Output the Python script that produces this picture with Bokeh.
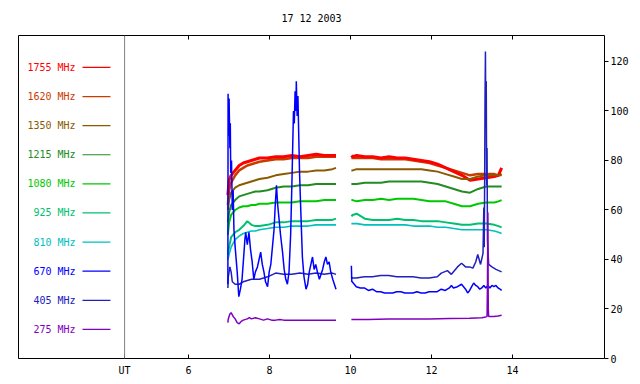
import math
from bokeh.plotting import figure
from bokeh.models import LinearAxis, FixedTicker, Span, Range1d
from bokeh.core.properties import value
from bokeh.embed import file_html
from bokeh.resources import INLINE

NaN = float("nan")

title_text = "17 12 2003"
freq_labels = ["1755 MHz", "1620 MHz", "1350 MHz", "1215 MHz", "1080 MHz",
               "925 MHz", "810 MHz", "670 MHz", "405 MHz", "275 MHz"]
colors = ["#ff0000", "#c83c00", "#8b5a00", "#228b22", "#00c800",
          "#00c070", "#00c0c0", "#0000ff", "#2020c0", "#8000c0"]
x_ticks = [6, 8, 10, 12, 14]
ut_mark = 4.42
y_ticks = [0, 20, 40, 60, 80, 100, 120]

# common time grid (UT hours) for the smoother channels
ut = [6.97, 7.0, 7.05, 7.15, 7.25, 7.35, 7.45, 7.55, 7.65, 7.75, 7.95, 8.15, 8.35, 8.55, 8.75,
      8.95, 9.15, 9.35, 9.55, 9.64, NaN,
      10.02, 10.05, 10.15, 10.35, 10.55, 10.75, 10.95, 11.15, 11.35, 11.55, 11.75, 11.95, 12.15,
      12.35, 12.55, 12.75, 12.95, 13.15, 13.35, 13.55, 13.65, 13.73]

f1755 = [66, 72, 74, 76, 78, 79, 79.5, 80, 80.5, 81, 81, 81.5, 81.5, 82, 81.5, 82, 82.5, 82, 82, 82, NaN,
         82, 81.5, 82, 81.5, 81.5, 81, 81.5, 81, 81, 80.5, 80, 79.5, 78.5, 77, 75.5, 74, 72, 72.5,
         73, 73.5, 74, 77]
f1620 = [62, 68, 71, 74, 76, 77, 78, 78.5, 79, 79.5, 80, 80.5, 80.5, 81, 81, 81, 81.5, 81.5, 81.5, 81.5, NaN,
         81, 81, 81, 81, 81, 80.5, 80.5, 80.5, 80.5, 80, 79.5, 79, 78, 77, 76, 75, 74, 74.5,
         74.5, 74.5, 74, 74.5]
f1350 = [60, 64, 67, 69, 70, 70.5, 71, 71.5, 72, 72.5, 73, 74, 74.5, 75, 75.5, 75.5, 76, 76, 76.5, 77, NaN,
         76, 76, 76.5, 76.5, 76.5, 76.5, 76.5, 76.5, 76.5, 76.5, 76.5, 76, 75.5, 74.5, 73.5, 72.5, 72.5, 73.5,
         74, 74, 74, 74]
f1215 = [55, 59, 62, 64, 65.5, 66, 66.5, 67, 67.5, 67.5, 68, 69, 69.5, 69.5, 70, 70, 70.5, 70.5, 70.5, 70.5, NaN,
         70.5, 70.5, 70.5, 71, 71, 71, 71.5, 71.5, 71.5, 71.5, 71.5, 71, 70.5, 69.5, 68.5, 67.5, 67, 68.5,
         69.5, 69.5, 69.5, 69.5]
f1080 = [50, 55, 58, 60, 61, 61.5, 61.5, 62, 62, 62.5, 62.5, 63, 63, 63, 63.5, 63.5, 63.5, 64, 64, 64, NaN,
         64, 64, 63.5, 64, 64, 64.5, 64, 64.5, 64.5, 64.5, 64, 63.5, 63.5, 63.5, 62.5, 61.5, 61.5, 62.5,
         63, 63, 63.5, 64]
f925 = [42, 45, 49, 51, 52, 53.5, 55.5, 54, 53.5, 53.5, 54, 55, 55, 55.5, 55.5, 55.5, 56, 56, 56, 56.5, NaN,
        57.5, 58, 58.5, 56.5, 56, 56, 56, 56.5, 56, 56, 55.5, 55.5, 55.5, 55, 54.5, 54, 54, 54.5,
        54.5, 54, 53.5, 53]
f810 = [40, 42, 45, 48, 49.5, 50.5, 51, 51.5, 51.5, 52, 52.5, 53, 53, 53.5, 53.5, 53.5, 54, 54, 54, 54, NaN,
        54.5, 54.5, 54.5, 54, 54, 54, 54, 54, 54, 53.5, 53.5, 53.5, 53, 53, 52.5, 52, 52, 52,
        52, 51.5, 51, 50.5]

# spiky channels: (UT hour, flux)
s670 = [(6.97, 30), (6.975, 107), (6.99, 90), (7.0, 105), (7.02, 85), (7.03, 95), (7.04, 75),
        (7.06, 80), (7.08, 60), (7.1, 68), (7.12, 52), (7.15, 45), (7.2, 35), (7.24, 25), (7.28, 28),
        (7.32, 32), (7.36, 41), (7.39, 48), (7.41, 51), (7.45, 46), (7.49, 51), (7.53, 44), (7.57, 39),
        (7.61, 32), (7.65, 35), (7.7, 37), (7.74, 40), (7.78, 43), (7.82, 38), (7.86, 35), (7.9, 31),
        (7.95, 29), (7.99, 35), (8.03, 38), (8.07, 45), (8.11, 52), (8.14, 62), (8.17, 70), (8.2, 62),
        (8.23, 57), (8.27, 50), (8.32, 43), (8.36, 36), (8.4, 32), (8.44, 30), (8.48, 35), (8.52, 50),
        (8.55, 70), (8.57, 85), (8.59, 100), (8.61, 95), (8.63, 108), (8.65, 100), (8.66, 112),
        (8.68, 98), (8.7, 106), (8.72, 90), (8.74, 75), (8.77, 60), (8.81, 41), (8.85, 33), (8.9, 28),
        (8.94, 30), (8.98, 35), (9.02, 38), (9.06, 41), (9.1, 36), (9.14, 38), (9.18, 35), (9.23, 32),
        (9.27, 34), (9.31, 36), (9.35, 39), (9.39, 41), (9.43, 38), (9.47, 39), (9.51, 35), (9.56, 32),
        (9.6, 30), (9.64, 28), (NaN, NaN),
        (10.02, 37.5), (10.03, 31), (10.04, 31), (10.14, 29), (10.24, 28.5), (10.34, 28.5), (10.44, 27.5),
        (10.54, 28), (10.64, 27), (10.74, 27), (10.84, 26.5), (10.94, 26.5), (11.04, 26.5), (11.14, 27),
        (11.24, 27), (11.34, 26.5), (11.44, 26.5), (11.54, 26.5), (11.64, 27), (11.74, 26.5),
        (11.84, 26.5), (11.94, 27), (12.04, 27), (12.14, 27), (12.24, 28), (12.34, 27.5), (12.44, 28.5),
        (12.49, 29.5), (12.54, 28.5), (12.64, 29), (12.74, 30), (12.79, 29), (12.84, 28), (12.89, 26.5),
        (12.94, 27.5), (12.99, 29), (13.04, 30.5), (13.09, 29.5), (13.14, 29), (13.19, 28), (13.24, 28.5),
        (13.29, 29.5), (13.34, 28.5), (13.39, 29.5), (13.44, 28.5), (13.49, 29.5), (13.54, 29),
        (13.59, 29.5), (13.64, 28.5), (13.69, 28), (13.73, 27.5)]

s405 = [(6.97, 28.5), (6.98, 33), (7.02, 37), (7.05, 35), (7.08, 31), (7.15, 30), (7.25, 30), (7.35, 31),
        (7.45, 31.5), (7.55, 32), (7.75, 32), (7.95, 33), (8.15, 34.5), (8.35, 34), (8.55, 34),
        (8.75, 34.5), (8.95, 34), (9.15, 34.5), (9.35, 34), (9.55, 34.5), (9.64, 34), (NaN, NaN),
        (10.02, 33), (10.03, 32.5), (10.14, 32.5), (10.34, 33), (10.54, 33), (10.74, 33.5), (10.94, 33.5),
        (11.14, 33), (11.34, 33), (11.54, 33), (11.74, 32.5), (11.94, 32.5), (12.14, 33), (12.24, 34.5),
        (12.39, 35.5), (12.49, 34), (12.64, 37), (12.74, 38.5), (12.84, 37), (12.94, 37), (13.02, 36.5),
        (13.09, 39), (13.14, 42), (13.21, 38), (13.27, 42.5), (13.29, 61), (13.3, 45), (13.31, 70),
        (13.32, 105), (13.33, 124), (13.34, 95), (13.35, 112), (13.36, 70), (13.37, 85), (13.38, 48),
        (13.41, 38), (13.49, 37), (13.59, 36), (13.73, 35)]

s275 = [(6.97, 14.5), (6.98, 16), (7.02, 18), (7.05, 18.5), (7.1, 17), (7.15, 16), (7.2, 14.5),
        (7.25, 14), (7.3, 15), (7.35, 15.5), (7.45, 16), (7.5, 16.5), (7.55, 16), (7.65, 16.5),
        (7.75, 16), (7.85, 15.5), (7.95, 16), (8.05, 15.5), (8.15, 15.5), (8.25, 15.8), (8.35, 15.5),
        (8.55, 15.5), (8.75, 15.5), (8.95, 15.5), (9.15, 15.5), (9.35, 15.5), (9.64, 15.5), (NaN, NaN),
        (10.02, 15.8), (10.44, 15.8), (10.94, 16), (11.44, 16), (11.94, 16), (12.44, 16.2), (12.94, 16.3),
        (13.24, 16.5), (13.34, 16.8), (13.37, 17), (13.38, 30), (13.39, 59), (13.4, 20), (13.41, 17),
        (13.54, 17), (13.64, 17.2), (13.73, 17.5)]

FONT = "DejaVu Sans Mono"

p = figure(frame_width=586, frame_height=323, output_backend="svg", toolbar_location=None,
           x_range=Range1d(1.80, 16.27), y_range=Range1d(0, 130.5),
           x_axis_location=None, y_axis_location=None,
           min_border_left=18, min_border_right=36, min_border_top=35, min_border_bottom=26)
p.background_fill_color = "white"
p.border_fill_color = "white"
p.outline_line_color = "black"
p.outline_line_width = 1
p.xgrid.visible = False
p.ygrid.visible = False

# bottom axis
xb = LinearAxis(ticker=FixedTicker(ticks=[ut_mark] + x_ticks),
                major_label_overrides={ut_mark: "UT"})
# top axis: tick marks only, date as its label
xt = LinearAxis(ticker=FixedTicker(ticks=x_ticks),
                major_label_overrides={t: "" for t in x_ticks},
                axis_label=title_text)
# right axis
yr = LinearAxis(ticker=FixedTicker(ticks=y_ticks))

for ax in (xb, xt, yr):
    ax.axis_line_color = None
    ax.minor_tick_line_color = None
    ax.major_tick_line_color = "black"
    ax.major_label_text_font = FONT
    ax.major_label_text_font_size = "10px"
    ax.major_label_text_color = "black"

xb.major_tick_in = 4
xb.major_tick_out = 0
xb.major_label_standoff = 6
xt.major_tick_in = 4
xt.major_tick_out = 0
xt.major_label_standoff = 0
xt.axis_label_text_font = FONT
xt.axis_label_text_font_size = "10px"
xt.axis_label_text_font_style = "normal"
xt.axis_label_text_color = "black"
xt.axis_label_standoff = 12
yr.major_tick_in = 0
yr.major_tick_out = 4
yr.major_label_standoff = 2

p.add_layout(xb, "below")
p.add_layout(xt, "above")
p.add_layout(yr, "right")

p.add_layout(Span(location=ut_mark, dimension="height", line_color="#808080", line_width=1))

smooth = {"1755 MHz": f1755, "1620 MHz": f1620, "1350 MHz": f1350, "1215 MHz": f1215,
          "1080 MHz": f1080, "925 MHz": f925, "810 MHz": f810}
spiky = {"670 MHz": s670, "405 MHz": s405, "275 MHz": s275}
widths = {"1755 MHz": 3, "1620 MHz": 2.5, "1350 MHz": 2, "1215 MHz": 2, "1080 MHz": 2,
          "925 MHz": 2, "810 MHz": 1.6, "670 MHz": 1.5, "405 MHz": 1.5, "275 MHz": 1.5}
col = dict(zip(freq_labels, colors))

order = ["1620 MHz", "1755 MHz", "1350 MHz", "1215 MHz", "1080 MHz", "925 MHz", "810 MHz",
         "405 MHz", "670 MHz", "275 MHz"]
for name in order:
    if name in smooth:
        xs, ys = ut, smooth[name]
    else:
        xs = [a for a, b in spiky[name]]
        ys = [b for a, b in spiky[name]]
    p.line(xs, ys, line_color=col[name], line_width=widths[name])

# legend column on the left of the frame
leg_top = 117.6
leg_step = 11.76
leg_y = [leg_top - leg_step * i for i in range(len(freq_labels))]
p.text(x=[3.21] * len(freq_labels), y=leg_y, text=freq_labels, text_color=colors,
       text_font=value(FONT), text_font_size="10px", text_align="right", text_baseline="middle")
p.segment(x0=[3.38] * len(freq_labels), x1=[4.07] * len(freq_labels), y0=leg_y, y1=leg_y,
          line_color=colors, line_width=1.2)

open("out.html", "w").write(file_html(p, INLINE))
